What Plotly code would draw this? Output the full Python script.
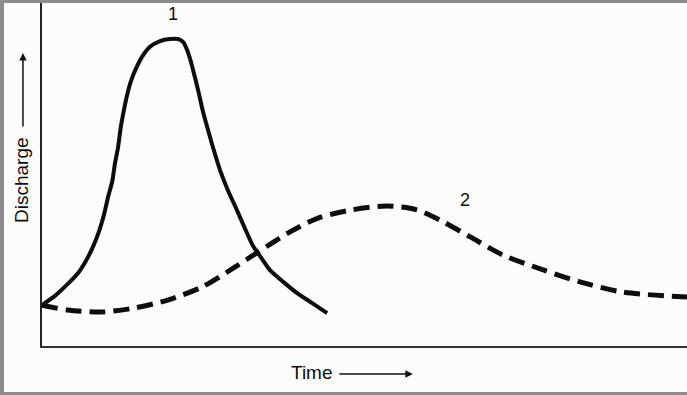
import plotly.graph_objects as go

# Hydrograph 1 (solid): time vs discharge (arbitrary units, 0-100)
t1 = [0.0, 2.0, 4.0, 5.6, 6.8, 7.9, 8.8, 9.6, 10.2, 10.9, 11.3, 11.8, 12.2, 12.7, 13.2,
      13.8, 14.6, 15.5, 16.7, 18.3, 19.8, 21.1, 21.9, 22.5, 23.1, 23.7, 24.3, 24.9, 25.6,
      26.4, 27.6, 28.8, 30.2, 31.5, 32.7, 34.1, 35.3, 37.4, 39.5, 41.9, 44.2]
q1 = [11.9, 14.6, 18.1, 21.3, 24.8, 28.9, 33.2, 38.2, 43.1, 48.1, 53.1, 58.0, 63.6,
      68.8, 73.2, 77.3, 81.0, 84.3, 87.2, 88.9, 89.5, 89.5, 88.6, 86.3, 82.8, 78.4, 73.8,
      68.8, 63.9, 58.6, 51.3, 45.5, 39.7, 34.1, 29.2, 25.4, 22.2, 18.7, 15.5, 12.5, 9.6]

# Hydrograph 2 (dashed)
t2 = [0.0, 4.0, 9.3, 14.4, 19.5, 24.8, 29.9, 33.5, 38.1, 42.8, 48.1, 53.5, 58.1,
      62.2, 66.4, 71.5, 77.7, 83.4, 90.1, 100.0]
q2 = [11.9, 10.5, 9.9, 11.1, 13.4, 17.2, 23.0, 27.4, 32.9, 37.3, 39.7, 40.8, 39.7,
      36.2, 31.8, 26.5, 22.2, 18.7, 15.7, 14.3]

curve_labels = ["1", "2"]
label_t = [20.3, 65.6]
label_q = [96.8, 42.6]

x_title = "Time"
y_title = "Discharge"

FONT = "Liberation Sans, Arial, Helvetica, sans-serif"

fig = go.Figure()
fig.add_trace(go.Scatter(x=t1, y=q1, mode="lines",
                         line=dict(color="#0d0d0d", width=4, shape="spline", smoothing=0.6),
                         hoverinfo="skip", cliponaxis=False))
fig.add_trace(go.Scatter(x=t2, y=q2, mode="lines",
                         line=dict(color="#0d0d0d", width=5, shape="spline", smoothing=0.8,
                                   dash="16px,8px"),
                         hoverinfo="skip", cliponaxis=False))

ann = []
for lab, tx, ty in zip(curve_labels, label_t, label_q):
    ann.append(dict(x=tx, y=ty, xref="x", yref="y", text=lab, showarrow=False,
                    xanchor="center", yanchor="middle",
                    font=dict(family=FONT, size=18, color="#0d0d0d")))

# axis titles with arrows
ann.append(dict(x=-0.031, y=0.484, xref="paper", yref="paper", text=y_title, textangle=-90,
                xanchor="center", yanchor="middle",
                showarrow=False, font=dict(family=FONT, size=19, color="#0d0d0d")))
ann.append(dict(x=-0.0295, y=0.854, xref="paper", yref="paper", text="", showarrow=True,
                ax=0, ay=75, arrowhead=2, arrowsize=1, arrowwidth=1.5, arrowcolor="#111"))
ann.append(dict(x=0.419, y=-0.0787, xref="paper", yref="paper", text=x_title,
                xanchor="center", yanchor="middle",
                showarrow=False, font=dict(family=FONT, size=19, color="#0d0d0d")))
ann.append(dict(x=0.575, y=-0.0816, xref="paper", yref="paper", text="", showarrow=True,
                ax=-75, ay=0, arrowhead=2, arrowsize=1, arrowwidth=1.5, arrowcolor="#111"))

gray = "#8c8c8c"
shapes = [
    dict(type="rect", xref="paper", yref="paper", x0=-0.07, x1=1.0, y0=1.0, y1=1.02,
         fillcolor=gray, line=dict(width=0), layer="above"),
    dict(type="rect", xref="paper", yref="paper", x0=-0.07, x1=-0.0589, y0=-0.15, y1=1.02,
         fillcolor=gray, line=dict(width=0), layer="above"),
    dict(type="rect", xref="paper", yref="paper", x0=-0.07, x1=1.0, y0=-0.15, y1=-0.134,
         fillcolor=gray, line=dict(width=0), layer="above"),
]

fig.update_layout(
    width=687, height=395,
    margin=dict(l=42, r=0, t=3, b=49),
    paper_bgcolor="#fcfcfc", plot_bgcolor="#fcfcfc",
    showlegend=False,
    annotations=ann,
    shapes=shapes,
    xaxis=dict(range=[0, 100], showgrid=False, zeroline=False, showticklabels=False,
               ticks="", showline=True, linecolor="#333", linewidth=2, fixedrange=True),
    yaxis=dict(range=[0, 100], showgrid=False, zeroline=False, showticklabels=False,
               ticks="", showline=True, linecolor="#222", linewidth=1.5, fixedrange=True),
)

fig.write_html("out.html", config={"displayModeBar": False},
               post_script="document.body.style.margin='0px';document.body.style.background='#fcfcfc';")
